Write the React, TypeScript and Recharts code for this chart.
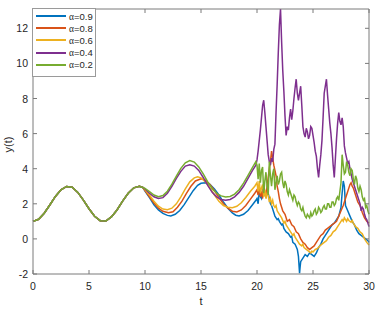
import { LineChart, Line, XAxis, YAxis } from 'recharts'

type Pt = [number, number]

// shared start, every alpha is on the same curve until t ~ 9.8
const COMMON: Pt[] = [
  [0, 1.0], [0.5, 1.12], [1, 1.46], [1.5, 1.93], [2, 2.42], [2.5, 2.8], [3, 2.99], [3.5, 2.94],
  [4, 2.65], [4.5, 2.21], [5, 1.72], [5.5, 1.29], [6, 1.04], [6.5, 1.02], [7, 1.25], [7.5, 1.65],
  [8, 2.15], [8.5, 2.6], [9, 2.91], [9.5, 3.0], [9.8, 2.93],
]

const A09: Pt[] = [
  [10.0, 2.72], [10.4, 2.35], [10.8, 1.95], [11.2, 1.65], [11.6, 1.45], [12.0, 1.34], [12.3, 1.31], [12.7, 1.4],
  [13.1, 1.62], [13.5, 1.95], [13.9, 2.35], [14.3, 2.75], [14.7, 3.05], [15.0, 3.17], [15.4, 3.2], [15.8, 3.1],
  [16.2, 2.85], [16.6, 2.5], [17.0, 2.1], [17.4, 1.75], [17.8, 1.48], [18.1, 1.35], [18.4, 1.31], [18.8, 1.4],
  [19.2, 1.62], [19.6, 1.95], [19.9, 2.2],
  [20.0, 2.3], [20.1, 2.0], [20.2, 2.7], [20.3, 2.4], [20.4, 2.3], [20.5, 2.8], [20.6, 2.9], [20.7, 2.5],
  [20.8, 2.4], [20.9, 2.8], [21.0, 2.6], [21.1, 2.3], [21.2, 2.0], [21.3, 1.9], [21.4, 1.7], [21.5, 1.5],
  [21.6, 1.3], [21.7, 1.2], [21.8, 1.1], [21.9, 1.15], [22.0, 1.0], [22.2, 0.8], [22.3, 0.85], [22.4, 0.6],
  [22.6, 0.4], [22.8, 0.3], [23.0, 0.1], [23.1, 0.15], [23.2, -0.2], [23.4, -0.3], [23.5, -0.45], [23.6, -0.6],
  [23.7, -1.0], [23.8, -1.95], [23.85, -1.6], [23.9, -1.3], [24.0, -1.2], [24.1, -1.1], [24.3, -0.9], [24.5, -1.0],
  [24.7, -0.8], [24.9, -0.9], [25.1, -1.0], [25.3, -0.8], [25.5, -0.5], [25.7, -0.3], [25.9, 0.0], [26.1, 0.2],
  [26.3, 0.4], [26.5, 0.6], [26.7, 0.8], [26.9, 0.9], [27.1, 1.1], [27.3, 1.3], [27.5, 1.8], [27.6, 2.6],
  [27.7, 3.3], [27.8, 3.0], [27.9, 1.9], [28.1, 1.6], [28.3, 1.3], [28.5, 1.0], [28.7, 0.8], [28.9, 0.5],
  [29.1, 0.3], [29.3, 0.2], [29.5, 0.1], [29.7, 0.0], [29.9, -0.1], [30.0, -0.2],
]

const A08: Pt[] = [
  [10.0, 2.76], [10.4, 2.4], [10.8, 2.05], [11.2, 1.75], [11.6, 1.57], [12.1, 1.49], [12.5, 1.55], [12.9, 1.8],
  [13.3, 2.15], [13.7, 2.6], [14.1, 3.0], [14.5, 3.3], [15.0, 3.43], [15.4, 3.35], [15.8, 3.1], [16.2, 2.75],
  [16.6, 2.35], [17.0, 2.0], [17.4, 1.75], [17.8, 1.58], [18.2, 1.54], [18.6, 1.65], [19.0, 1.9], [19.4, 2.25],
  [19.8, 2.6],
  [20.0, 2.8], [20.1, 2.5], [20.2, 3.0], [20.3, 2.4], [20.4, 2.7], [20.5, 2.3], [20.6, 3.2], [20.7, 2.6],
  [20.8, 2.5], [20.9, 3.0], [21.0, 3.5], [21.1, 4.0], [21.2, 4.4], [21.3, 5.0], [21.4, 4.6], [21.5, 4.2],
  [21.6, 3.9], [21.7, 3.6], [21.8, 3.0], [21.9, 2.7], [22.0, 2.3], [22.1, 2.0], [22.2, 1.8], [22.3, 1.6],
  [22.5, 1.4], [22.7, 1.0], [22.9, 1.1], [23.1, 0.8], [23.3, 0.7], [23.5, 0.4], [23.7, 0.3], [23.9, 0.0],
  [24.1, -0.2], [24.3, -0.3], [24.5, -0.5], [24.7, -0.6], [24.9, -0.5], [25.1, -0.4], [25.3, -0.2], [25.5, 0.0],
  [25.7, 0.2], [25.9, 0.3], [26.1, 0.5], [26.3, 0.6], [26.5, 0.7], [26.7, 0.8], [26.9, 0.9], [27.1, 1.0],
  [27.3, 1.3], [27.5, 1.6], [27.7, 1.9], [27.9, 2.3], [28.1, 2.7], [28.3, 3.1], [28.4, 3.2], [28.5, 3.0],
  [28.6, 2.9], [28.8, 2.5], [29.0, 2.1], [29.2, 1.9], [29.4, 1.5], [29.6, 1.2], [29.8, 1.0], [30.0, 0.9],
]

const A06: Pt[] = [
  [10.0, 2.8], [10.4, 2.5], [10.8, 2.15], [11.2, 1.86], [11.6, 1.7], [12.0, 1.66], [12.4, 1.75], [12.8, 2.0],
  [13.2, 2.4], [13.6, 2.85], [14.0, 3.25], [14.4, 3.48], [14.7, 3.54], [15.0, 3.48], [15.4, 3.25], [15.8, 2.9],
  [16.2, 2.5], [16.6, 2.15], [17.0, 1.9], [17.4, 1.8], [17.8, 1.78], [18.2, 1.86], [18.6, 2.06], [19.0, 2.36],
  [19.4, 2.7], [19.8, 3.0],
  [20.0, 3.2], [20.1, 2.7], [20.2, 3.3], [20.3, 2.6], [20.4, 2.9], [20.5, 3.1], [20.6, 2.4], [20.7, 2.8],
  [20.8, 2.3], [20.9, 2.6], [21.0, 2.5], [21.1, 2.1], [21.2, 2.3], [21.3, 2.0], [21.4, 2.2], [21.5, 1.9],
  [21.6, 1.8], [21.7, 1.9], [21.8, 1.6], [21.9, 1.5], [22.0, 1.4], [22.2, 1.2], [22.4, 0.9], [22.5, 1.0],
  [22.6, 0.8], [22.8, 0.6], [23.0, 0.4], [23.2, 0.2], [23.3, 0.3], [23.4, 0.1], [23.6, -0.1], [23.8, -0.3],
  [24.0, -0.4], [24.1, -0.3], [24.2, -0.5], [24.4, -0.6], [24.6, -0.7], [24.8, -0.8], [24.9, -0.7], [25.0, -0.75],
  [25.2, -0.6], [25.4, -0.55], [25.6, -0.4], [25.8, -0.3], [26.0, -0.2], [26.2, -0.1], [26.4, 0.1], [26.6, 0.2],
  [26.8, 0.4], [27.0, 0.5], [27.2, 0.7], [27.4, 0.9], [27.6, 1.1], [27.7, 1.0], [27.8, 1.2], [28.0, 1.0],
  [28.1, 1.15], [28.2, 1.05], [28.4, 0.95], [28.5, 1.05], [28.6, 0.9], [28.8, 0.7], [29.0, 0.6], [29.2, 0.4],
  [29.4, 0.3], [29.6, 0.0], [29.8, -0.2], [30.0, -0.35],
]

const A04: Pt[] = [
  [10.0, 2.85], [10.4, 2.6], [10.8, 2.4], [11.2, 2.3], [11.6, 2.35], [12.0, 2.6], [12.4, 3.0], [12.8, 3.45],
  [13.2, 3.85], [13.6, 4.15], [14.0, 4.23], [14.4, 4.15], [14.8, 3.9], [15.2, 3.5], [15.6, 3.05], [16.0, 2.65],
  [16.4, 2.4], [16.8, 2.25], [17.2, 2.2], [17.6, 2.25], [18.0, 2.4], [18.4, 2.65], [18.8, 3.0], [19.2, 3.45],
  [19.6, 3.9], [19.9, 4.2],
  [20.0, 4.5], [20.1, 5.0], [20.2, 5.6], [20.3, 6.2], [20.4, 6.9], [20.5, 7.6], [20.6, 7.9], [20.7, 7.2],
  [20.8, 6.4], [20.9, 5.6], [21.0, 4.8], [21.1, 4.4], [21.2, 4.2], [21.3, 4.6], [21.4, 4.4], [21.5, 5.1],
  [21.6, 5.4], [21.7, 7.2], [21.8, 8.8], [21.9, 10.6], [22.0, 12.2], [22.1, 13.1], [22.2, 11.2], [22.3, 9.6],
  [22.4, 8.4], [22.5, 7.0], [22.6, 5.9], [22.7, 6.4], [22.8, 6.2], [22.9, 6.9], [23.0, 7.4], [23.1, 6.8],
  [23.2, 7.3], [23.3, 8.0], [23.4, 8.6], [23.5, 9.1], [23.6, 8.3], [23.7, 7.9], [23.8, 8.3], [23.9, 8.7],
  [24.0, 7.6], [24.1, 6.4], [24.2, 6.0], [24.3, 5.8], [24.4, 6.3], [24.5, 6.1], [24.6, 5.7], [24.7, 5.9],
  [24.8, 6.4], [24.9, 6.3], [25.0, 5.9], [25.1, 5.5], [25.2, 5.0], [25.3, 4.7], [25.4, 4.0], [25.5, 3.5],
  [25.6, 4.2], [25.7, 4.8], [25.8, 5.6], [25.9, 6.9], [26.0, 8.3], [26.1, 8.7], [26.2, 9.1], [26.3, 8.2],
  [26.4, 7.4], [26.5, 6.6], [26.6, 6.0], [26.7, 5.2], [26.8, 4.2], [26.9, 3.5], [27.0, 4.6], [27.1, 5.7],
  [27.2, 6.6], [27.3, 7.2], [27.4, 6.7], [27.5, 6.5], [27.6, 6.9], [27.7, 6.4], [27.8, 5.3], [27.9, 4.9],
  [28.0, 4.6], [28.1, 4.3], [28.2, 4.4], [28.3, 4.0], [28.4, 3.7], [28.5, 3.4], [28.6, 3.2], [28.7, 3.0],
  [28.8, 2.8], [28.9, 2.6], [29.0, 2.4], [29.1, 2.2], [29.2, 2.0], [29.3, 1.6], [29.4, 1.8], [29.5, 1.7],
  [29.6, 1.4], [29.7, 1.2], [29.8, 1.1], [29.9, 0.9], [30.0, 0.7],
]

const A02: Pt[] = [
  [10.0, 2.88], [10.4, 2.7], [10.8, 2.5], [11.2, 2.4], [11.6, 2.47], [12.0, 2.72], [12.4, 3.12], [12.8, 3.58],
  [13.2, 4.02], [13.6, 4.34], [14.0, 4.46], [14.4, 4.38], [14.8, 4.1], [15.2, 3.7], [15.6, 3.25], [16.0, 2.86],
  [16.4, 2.6], [16.8, 2.45], [17.2, 2.39], [17.6, 2.42], [18.0, 2.55], [18.4, 2.8], [18.8, 3.18], [19.2, 3.62],
  [19.6, 4.08], [19.9, 4.4],
  [20.0, 4.2], [20.1, 3.4], [20.2, 4.3], [20.3, 3.2], [20.4, 3.9], [20.5, 4.1], [20.6, 2.6], [20.7, 3.3],
  [20.8, 3.8], [20.9, 3.0], [21.0, 2.5], [21.1, 4.4], [21.2, 3.6], [21.3, 3.0], [21.4, 3.7], [21.5, 4.0],
  [21.6, 2.8], [21.7, 3.2], [21.8, 3.6], [21.9, 3.1], [22.0, 3.3], [22.1, 3.7], [22.2, 3.8], [22.3, 3.2],
  [22.4, 2.9], [22.5, 3.3], [22.6, 3.1], [22.7, 2.7], [22.8, 2.5], [22.9, 2.8], [23.0, 2.6], [23.2, 2.2],
  [23.3, 2.5], [23.4, 2.4], [23.5, 2.1], [23.6, 1.9], [23.7, 2.1], [23.8, 2.0], [23.9, 1.7], [24.0, 1.6],
  [24.1, 1.8], [24.2, 1.5], [24.3, 1.3], [24.4, 1.2], [24.5, 1.4], [24.6, 1.3], [24.7, 1.2], [24.8, 1.5],
  [24.9, 1.3], [25.0, 1.4], [25.1, 1.6], [25.2, 1.7], [25.3, 1.4], [25.4, 1.5], [25.5, 1.8], [25.6, 1.7],
  [25.7, 1.5], [25.8, 1.6], [25.9, 1.8], [26.0, 1.9], [26.1, 1.7], [26.2, 1.7], [26.3, 2.0], [26.4, 2.0],
  [26.5, 1.8], [26.6, 1.8], [26.7, 2.1], [26.8, 2.1], [26.9, 1.9], [27.0, 2.0], [27.1, 2.3], [27.2, 2.4],
  [27.3, 2.2], [27.4, 2.7], [27.5, 3.2], [27.6, 4.8], [27.7, 4.2], [27.8, 3.7], [27.9, 3.8], [28.0, 4.4],
  [28.1, 4.2], [28.2, 3.8], [28.3, 3.6], [28.4, 4.0], [28.5, 3.9], [28.6, 3.4], [28.7, 3.1], [28.8, 3.6],
  [28.9, 3.4], [29.0, 2.9], [29.1, 2.7], [29.2, 3.0], [29.3, 2.8], [29.4, 2.4], [29.5, 2.2], [29.6, 2.3],
  [29.7, 1.8], [29.8, 1.9], [29.9, 1.6], [30.0, 1.4],
]

const X_TICKS = [0, 5, 10, 15, 20, 25, 30]
const Y_TICKS = [-2, 0, 2, 4, 6, 8, 10, 12]

const SERIES = [
  { alpha: '0.9', color: '#0072BD', pts: A09 },
  { alpha: '0.8', color: '#D95319', pts: A08 },
  { alpha: '0.6', color: '#EDB120', pts: A06 },
  { alpha: '0.4', color: '#7E2F8E', pts: A04 },
  { alpha: '0.2', color: '#77AC30', pts: A02 },
]

const AXIS = '#7a7a7a'
const TEXT = '#262626'
const FONT = '"Liberation Sans", Arial, Helvetica, sans-serif'

const rows = (pts: Pt[]) => [...COMMON, ...pts].map(([t, y]) => ({ t, y }))

function BottomTick({ x, y, payload }: any) {
  return (
    <g>
      <line x1={x} x2={x} y1={y} y2={y - 4} stroke={AXIS} />
      <text x={x} y={y + 16} textAnchor="middle" fontSize={10.5} fill={TEXT} fontFamily={FONT}>
        {payload.value}
      </text>
    </g>
  )
}

function LeftTick({ x, y, payload }: any) {
  return (
    <g>
      <line x1={x} x2={x + 4} y1={y} y2={y} stroke={AXIS} />
      <text x={x - 5} y={y + 4} textAnchor="end" fontSize={10.5} fill={TEXT} fontFamily={FONT}>
        {payload.value}
      </text>
    </g>
  )
}

const TopTick = ({ x, y }: any) => <line x1={x} x2={x} y1={y} y2={y + 4} stroke={AXIS} />
const RightTick = ({ x, y }: any) => <line x1={x} x2={x - 4} y1={y} y2={y} stroke={AXIS} />

function YTitle({ viewBox }: any) {
  const cx = viewBox.x + 8
  const cy = viewBox.y + viewBox.height / 2 + 3
  return (
    <text x={cx} y={cy} transform={`rotate(-90 ${cx} ${cy})`} textAnchor="middle"
      dominantBaseline="central" fontSize={11} fill={TEXT} fontFamily={FONT}>
      y(t)
    </text>
  )
}

export default function App() {
  return (
    <div style={{ position: 'absolute', left: 0, top: 0, width: 378, height: 310, background: '#fff' }}>
      <LineChart width={378} height={310} margin={{ top: 8, right: 8, bottom: 0, left: 0 }}>
        <XAxis xAxisId="b" dataKey="t" type="number" domain={[0, 30]} ticks={X_TICKS} height={36}
          stroke={AXIS} tickLine={false} tickSize={0} tickMargin={0} tick={<BottomTick />}
          label={{ value: 't', position: 'insideBottom', offset: 5, fontSize: 11, fill: TEXT, fontFamily: FONT }} />
        <XAxis xAxisId="top" orientation="top" dataKey="t" type="number" domain={[0, 30]} ticks={X_TICKS} height={1}
          stroke={AXIS} tickLine={false} tickSize={0} tickMargin={0} tick={<TopTick />} />
        <YAxis yAxisId="l" type="number" domain={[-2, 13.1]} ticks={Y_TICKS} width={33} allowDataOverflow
          stroke={AXIS} tickLine={false} tickSize={0} tickMargin={0} tick={<LeftTick />}
          label={{ content: <YTitle /> }} />
        <YAxis yAxisId="r" orientation="right" type="number" domain={[-2, 13.1]} ticks={Y_TICKS} width={1}
          allowDataOverflow stroke={AXIS} tickLine={false} tickSize={0} tickMargin={0} tick={<RightTick />} />
        {SERIES.map(s => (
          <Line key={s.alpha} xAxisId="b" yAxisId="l" data={rows(s.pts)} dataKey="y" name={`α=${s.alpha}`}
            type="linear" stroke={s.color} strokeWidth={1.5} dot={false} isAnimationActive={false} />
        ))}
        {/* invisible copy so the mirrored box axes have a series */}
        <Line xAxisId="top" yAxisId="r" data={rows(A02)} dataKey="y" stroke="none" dot={false}
          legendType="none" isAnimationActive={false} />
      </LineChart>
      <div style={{
        position: 'absolute', left: 32, top: 8, width: 64, height: 69, boxSizing: 'border-box',
        border: '1px solid #9a9a9a', background: '#fff',
      }}>
        {SERIES.map((s, i) => (
          <div key={s.alpha} style={{
            position: 'absolute', left: 3, top: 1 + i * 12.2, height: 12,
            display: 'flex', alignItems: 'center', whiteSpace: 'nowrap',
          }}>
            <div style={{ width: 30, borderTop: `2px solid ${s.color}` }} />
            <span style={{ marginLeft: 3, fontSize: 9.5, color: TEXT, fontFamily: FONT }}>
              <span style={{ fontFamily: '"Liberation Serif", serif' }}>α</span>={s.alpha}
            </span>
          </div>
        ))}
      </div>
    </div>
  )
}
